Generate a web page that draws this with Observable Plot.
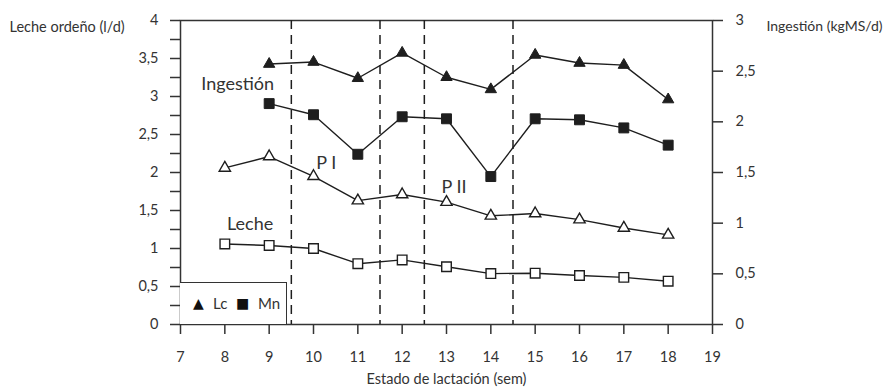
<!DOCTYPE html>
<html><head><meta charset="utf-8">
<script src="https://cdn.jsdelivr.net/npm/d3@7"></script>
<script src="https://cdn.jsdelivr.net/npm/@observablehq/plot@0.6"></script>
<style>
body{margin:0;background:#fff;}
#wrap{position:relative;width:885px;height:392px;font-family:Lato,"Open Sans",sans-serif;color:#333;}
#legend{position:absolute;left:180px;top:282px;width:107px;height:42px;border-top:1.5px solid #333;border-right:1.5px solid #333;box-sizing:border-box;background:#fff;font-size:15px;}
#legend span{position:absolute;top:11px;line-height:18px;}
#legend .sym{font-family:"DejaVu Sans";font-size:14px;color:#111;}
</style></head>
<body><div id="wrap"></div>
<script>
// ---- data ----
const weeksIngesta = [9, 10, 11, 12, 13, 14, 15, 16, 17, 18];
const ingestaLc = [2.57, 2.59, 2.43, 2.68, 2.44, 2.32, 2.66, 2.58, 2.56, 2.22];
const ingestaMn = [2.18, 2.07, 1.68, 2.05, 2.03, 1.46, 2.03, 2.02, 1.94, 1.77];
const weeksLeche = [8, 9, 10, 11, 12, 13, 14, 15, 16, 17, 18];
const lecheLc = [2.06, 2.21, 1.95, 1.63, 1.71, 1.61, 1.43, 1.46, 1.38, 1.27, 1.18];
const lecheMn = [1.06, 1.04, 1.00, 0.80, 0.85, 0.76, 0.67, 0.675, 0.645, 0.62, 0.57];
const periodBounds = [9.5, 11.5, 12.5, 14.5];
const xTicks = [7, 8, 9, 10, 11, 12, 13, 14, 15, 16, 17, 18, 19];
const leftTicks = [0, 0.25, 0.5, 0.75, 1, 1.25, 1.5, 1.75, 2, 2.25, 2.5, 2.75, 3, 3.25, 3.5, 3.75, 4];
const rightTicks = [0, 0.5, 1, 1.5, 2, 2.5, 3];
const annotLabels = ["Ingestión", "P I", "P II", "Leche"];
const annotX = [8.29, 10.29, 13.17, 8.57];
const annotY = [3.16, 2.12, 1.81, 1.32];
const titleLeft = "Leche ordeño (l/d)";
const titleRight = "Ingestión (kgMS/d)";
const titleX = "Estado de lactación (sem)";

// ---- tables ----
const K = 4 / 3; // right axis (0-3) onto left scale (0-4)
const ing = weeksIngesta.flatMap((w, i) => [
  {w, v: ingestaLc[i] * K, s: "Lc"}, {w, v: ingestaMn[i] * K, s: "Mn"}]);
const lec = weeksLeche.flatMap((w, i) => [
  {w, v: lecheLc[i], s: "Lc"}, {w, v: lecheMn[i], s: "Mn"}]);
const annots = annotLabels.map((t, i) => ({t, x: annotX[i], y: annotY[i]}));
const fmt = v => String(Math.round(v * 100) / 100).replace(".", ",");

const ink = "#1e1e1e", axisInk = "#333";
const chart = Plot.plot({
  width: 885, height: 392,
  marginLeft: 180, marginRight: 173, marginTop: 20, marginBottom: 68,
  x: {domain: [7, 19]},
  y: {domain: [0, 4]},
  style: {fontFamily: "Lato, 'Open Sans', sans-serif", fontSize: "14.5px", color: axisInk, background: "#fff"},
  marks: [
    Plot.frame({stroke: axisInk, strokeWidth: 1.5}),
    Plot.ruleX(periodBounds, {stroke: ink, strokeWidth: 1.5, strokeDasharray: "9,6"}),
    Plot.axisX(xTicks, {tickSize: 10, tickPadding: 17, strokeWidth: 1.5, stroke: axisInk, label: null, tickFormat: d => String(d)}),
    Plot.axisY(leftTicks, {anchor: "left", tickSize: 10, tickPadding: 12, strokeWidth: 1.5, stroke: axisInk, label: null,
      tickFormat: d => (Math.abs(d * 2 - Math.round(d * 2)) < 1e-9 ? fmt(d) : "")}),
    Plot.axisY(rightTicks.map(v => v * K), {anchor: "right", tickSize: 10, tickPadding: 13, strokeWidth: 1.5, stroke: axisInk, label: null,
      tickFormat: d => fmt(d / K)}),
    Plot.line(ing, {x: "w", y: "v", z: "s", stroke: ink, strokeWidth: 1.4}),
    Plot.line(lec, {x: "w", y: "v", z: "s", stroke: ink, strokeWidth: 1.4}),
    Plot.dot(ing.filter(d => d.s === "Lc"), {x: "w", y: "v", symbol: "triangle", r: 4.2, fill: ink, stroke: ink, strokeWidth: 1}),
    Plot.dot(ing.filter(d => d.s === "Mn"), {x: "w", y: "v", symbol: "square", r: 5.6, fill: ink, stroke: ink, strokeWidth: 1}),
    Plot.dot(lec.filter(d => d.s === "Lc"), {x: "w", y: "v", symbol: "triangle", r: 4.2, fill: "#fff", stroke: ink, strokeWidth: 1.4}),
    Plot.dot(lec.filter(d => d.s === "Mn"), {x: "w", y: "v", symbol: "square", r: 5.4, fill: "#fff", stroke: ink, strokeWidth: 1.4}),
    Plot.text(annots, {x: "x", y: "y", text: "t", fontSize: 18, fill: axisInk}),
    Plot.text([titleLeft], {frameAnchor: "top-left", text: d => d, dx: -171, dy: 1, textAnchor: "start", fontSize: 14.5, fill: axisInk}),
    Plot.text([titleRight], {frameAnchor: "top-right", text: d => d, dx: 170, dy: 1, textAnchor: "end", fontSize: 14, fill: axisInk}),
    Plot.text([titleX], {frameAnchor: "bottom", text: d => d, dy: 59, fontSize: 14.5, fill: axisInk})
  ]
});
const wrap = document.getElementById("wrap");
wrap.appendChild(chart);
const lg = document.createElement("div");
lg.id = "legend";
lg.innerHTML = '<span class="sym" style="left:13px">▲</span><span style="left:33px">Lc</span>' +
  '<span class="sym" style="left:56px">■</span><span style="left:78px">Mn</span>';
wrap.appendChild(lg);
</script></body></html>
